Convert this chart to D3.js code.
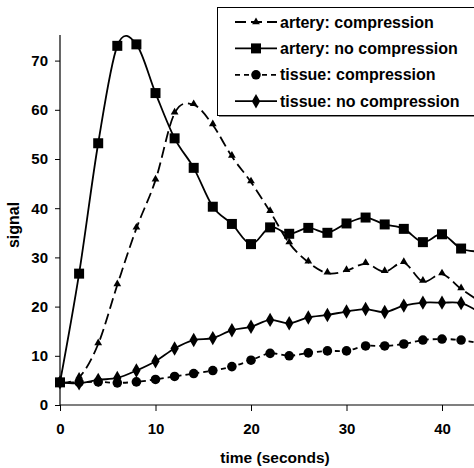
<!DOCTYPE html>
<html>
<head>
<meta charset="utf-8">
<script src="https://cdn.jsdelivr.net/npm/d3@7"></script>
<style>
  body { margin: 0; background: #fff; }
  svg { display: block; font-family: "Liberation Sans", Arial, sans-serif; font-weight: bold; }
</style>
</head>
<body>
<div class="chart"></div>
<script>
// signal vs time, four series sampled every 2 seconds

var times = [0, 2, 4, 6, 8, 10, 12, 14, 16, 18, 20, 22, 24, 26, 28, 30, 32, 34, 36, 38, 40, 42, 44];
var arteryComp = [4.6, 5.6, 12.4, 24.4, 35.9, 45.7, 59.3, 61.0, 56.9, 50.5, 45.3, 39.3, 32.9, 29.0, 26.8, 27.3, 28.7, 27.1, 28.9, 25.1, 26.6, 23.6, 21.0];
var arteryNoComp = [4.6, 26.7, 53.2, 73.0, 73.3, 63.4, 54.2, 48.2, 40.3, 36.8, 32.7, 36.1, 34.8, 36.0, 35.0, 36.9, 38.1, 36.7, 35.8, 33.1, 34.7, 31.8, 31.2];
var tissueComp = [4.6, 4.6, 4.7, 4.5, 4.7, 5.2, 5.8, 6.4, 7.0, 7.8, 9.1, 10.5, 10.0, 10.6, 11.0, 11.0, 12.0, 12.0, 12.4, 13.2, 13.4, 13.2, 12.5];
var tissueNoComp = [4.6, 4.4, 5.1, 5.5, 7.0, 8.9, 11.5, 13.2, 13.6, 15.2, 15.9, 17.3, 16.6, 17.8, 18.3, 19.0, 19.5, 18.9, 20.2, 20.8, 20.8, 20.7, 18.8];

var seriesNames = ['artery: compression', 'artery: no compression', 'tissue: compression', 'tissue: no compression'];
var xTicks = [0, 10, 20, 30, 40];
var yTicks = [0, 10, 20, 30, 40, 50, 60, 70];

var width = 474, height = 468;

var svg = d3.select('.chart').append('svg').attr('width', width).attr('height', height);

var x = d3.scaleLinear().domain([0, 44]).range([60, 480.2]);
var y = d3.scaleLinear().domain([0, 75]).range([405, 36]);

// axes
var xAxis = svg.append('g')
    .attr('transform', 'translate(0,405)')
    .call(d3.axisBottom(x).tickValues(xTicks).tickSize(6).tickPadding(12).tickFormat(d3.format('d')));
var yAxis = svg.append('g')
    .attr('transform', 'translate(60,0)')
    .call(d3.axisLeft(y).tickValues(yTicks).tickSize(5).tickPadding(7).tickFormat(d3.format('d')));

svg.selectAll('.domain').attr('stroke', '#000').attr('stroke-width', 1.2);
svg.selectAll('.tick line').attr('stroke', '#000');
svg.selectAll('.tick text')
    .attr('fill', '#000')
    .style('font-size', '15px')
    .style('font-weight', 'bold')
    .style('font-family', '"Liberation Sans", Arial, sans-serif');
// the original is cut off on the right, so the x axis just runs off the edge
xAxis.select('.domain').attr('d', 'M60,0H480');
yAxis.select('.domain').attr('d', 'M0,35V405');

svg.append('text')
    .attr('x', 275).attr('y', 463)
    .attr('text-anchor', 'middle')
    .style('font-size', '15.5px')
    .text('time (seconds)');

svg.append('text')
    .attr('transform', 'translate(19,225) rotate(-90)')
    .attr('text-anchor', 'middle')
    .style('font-size', '16px')
    .text('signal');

// series setup
var series = [
  { name: seriesNames[0], values: arteryComp, dash: '11,5', marker: 'triangle' },
  { name: seriesNames[1], values: arteryNoComp, dash: null, marker: 'square' },
  { name: seriesNames[2], values: tissueComp, dash: '5,4', marker: 'circle' },
  { name: seriesNames[3], values: tissueNoComp, dash: null, marker: 'diamond' }
];

var symbolFor = {
  triangle: d3.symbol().type(d3.symbolTriangle).size(26),
  square: d3.symbol().type(d3.symbolSquare).size(100),
  circle: d3.symbol().type(d3.symbolCircle).size(72),
  diamond: d3.symbol().type(d3.symbolDiamond).size(60)
};

var line = d3.line()
    .x(function(d) { return x(d[0]); })
    .y(function(d) { return y(d[1]); })
    .curve(d3.curveCardinal.tension(0));

series.forEach(function(s) {
  var pts = times.map(function(t, i) { return [t, s.values[i]]; });

  svg.append('path')
      .datum(pts)
      .attr('d', line)
      .attr('fill', 'none')
      .attr('stroke', '#000')
      .attr('stroke-width', 1.8)
      .attr('stroke-dasharray', s.dash);

  svg.selectAll('.m-' + s.marker)
      .data(pts)
      .enter()
      .append('path')
      .classed('m-' + s.marker, true)
      .attr('transform', function(d) {
        var ty = s.marker === 'triangle' ? y(d[1]) - 1 : y(d[1]);
        return 'translate(' + x(d[0]) + ',' + ty + ')';
      })
      .attr('d', symbolFor[s.marker])
      .attr('fill', '#000');
});

// legend box with a little grey shadow
var legend = svg.append('g');
legend.append('rect')
    .attr('x', 219).attr('y', 9).attr('width', 270).attr('height', 108)
    .attr('fill', '#888');
legend.append('rect')
    .attr('x', 217.5).attr('y', 7.5).attr('width', 270).attr('height', 108)
    .attr('fill', '#fff').attr('stroke', '#000').attr('stroke-width', 1);

var legendRows = legend.selectAll('.row')
    .data(series)
    .enter()
    .append('g')
    .classed('row', true)
    .attr('transform', function(d, i) { return 'translate(0,' + (22 + i * 26.4) + ')'; });

legendRows.append('line')
    .attr('x1', 235).attr('x2', 277)
    .attr('y1', 0).attr('y2', 0)
    .attr('stroke', '#000')
    .attr('stroke-width', 1.8)
    .attr('stroke-dasharray', function(d) { return d.dash; });

legendRows.append('path')
    .attr('transform', 'translate(256,0)')
    .attr('d', function(d) { return symbolFor[d.marker](); })
    .attr('fill', '#000');

legendRows.append('text')
    .attr('x', 280).attr('y', 5.5)
    .style('font-size', '16px')
    .text(function(d) { return d.name; });
</script>
</body>
</html>
